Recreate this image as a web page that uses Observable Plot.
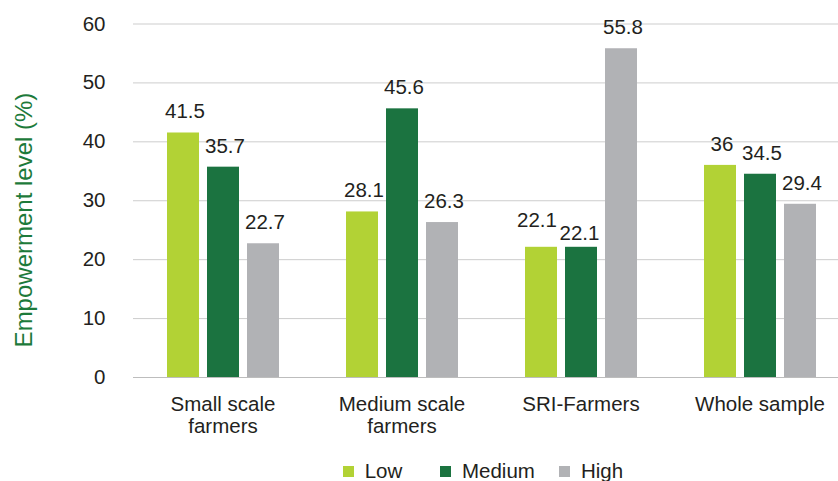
<!DOCTYPE html>
<html>
<head>
<meta charset="utf-8">
<script src="https://cdn.jsdelivr.net/npm/d3@7"></script>
<script src="https://cdn.jsdelivr.net/npm/@observablehq/plot@0.6"></script>
<style>
  body { margin: 0; background: #fff; }
  #chart { position: relative; width: 838px; height: 481px; overflow: hidden; background: #fff;
           font-family: "Liberation Sans", Arial, Helvetica, sans-serif; }
  #chart svg { display: block; }
  .lg-swatches { position: absolute; left: 342.7px; top: 459px; margin: 0; min-height: 0;
                 font: 20.5px "Liberation Sans", Arial, Helvetica, sans-serif; color: #231f20; }
  .lg-swatch { margin-right: 0; height: 24px; }
  .lg-swatch > svg { margin-right: 11px; }
  .lg-swatch:nth-of-type(1) { width: 97.3px; }
  .lg-swatch:nth-of-type(2) { width: 119px; }
</style>
</head>
<body>
<div id="chart"></div>
<script>
// Farmer groups along the horizontal axis and their printed labels
const categories = ["Small scale farmers", "Medium scale farmers", "SRI-Farmers", "Whole sample"];
const categoryLabels = ["Small scale\nfarmers", "Medium scale\nfarmers", "SRI-Farmers", "Whole sample"];

// Empowerment levels (series)
const levels = ["Low", "Medium", "High"];
const levelColors = ["#b2d235", "#1b7340", "#b1b2b5"];

// Share of respondents (%) at each level, per group
const lowValues = [41.5, 28.1, 22.1, 36];
const mediumValues = [35.7, 45.6, 22.1, 34.5];
const highValues = [22.7, 26.3, 55.8, 29.4];

const yTicks = [0, 10, 20, 30, 40, 50, 60];
const yTitle = "Empowerment level (%)";

const seriesValues = [lowValues, mediumValues, highValues];
const rows = [];
categories.forEach((category, i) => {
  levels.forEach((level, j) => {
    rows.push({category, level, value: seriesValues[j][i]});
  });
});

const textColor = "#231f20";

// The two equal SRI-Farmers labels are nudged apart so they don't collide
const isSriLow = (d) => d.category === "SRI-Farmers" && d.level === "Low";
const isSriMedium = (d) => d.category === "SRI-Farmers" && d.level === "Medium";
const valueLabel = (data, dx, dy) =>
  Plot.text(data, {
    fx: "category",
    x: "level",
    y: "value",
    text: (d) => String(d.value),
    lineAnchor: "bottom",
    dx,
    dy,
    fill: textColor
  });

const chart = Plot.plot({
  width: 838,
  height: 455,
  marginLeft: 132,
  marginRight: 0,
  marginTop: 23,
  marginBottom: 78,
  style: {
    fontFamily: '"Liberation Sans", Arial, Helvetica, sans-serif',
    fontSize: "20.5px",
    color: textColor,
    background: "#fff",
    overflow: "visible"
  },
  fx: {domain: categories, range: [132.3, 849.5], padding: 0, label: null},
  x: {domain: levels, paddingInner: 0.21, paddingOuter: 0.84, align: 0.5, axis: null},
  y: {domain: [0, 60], range: [377, 23.5]},
  color: {domain: levels, range: levelColors},
  marks: [
    Plot.ruleY(yTicks.filter((t) => t > 0), {stroke: "#cdcdcd", strokeWidth: 1}),
    Plot.barY(rows, {fx: "category", x: "level", y: "value", fill: "level"}),
    Plot.ruleY([0], {stroke: "#bdbdbd", strokeWidth: 1}),
    Plot.axisY({
      ticks: yTicks,
      tickSize: 0,
      tickPadding: 28,
      line: true,
      stroke: "#c6c6c6",
      fill: textColor,
      label: null
    }),
    Plot.axisFx({
      anchor: "bottom",
      tickSize: 0,
      tickPadding: 17,
      lineHeight: 1.11,
      fill: textColor,
      tickFormat: (d) => categoryLabels[categories.indexOf(d)],
      label: null
    }),
    valueLabel(rows.filter((d) => !isSriLow(d) && !isSriMedium(d)), 1.5, -14.5),
    valueLabel(rows.filter(isSriLow), -4.5, -20),
    valueLabel(rows.filter(isSriMedium), -2, -7),
    Plot.text([{category: categories[0], title: yTitle}], {
      fx: "category",
      frameAnchor: "left",
      textAnchor: "middle",
      text: "title",
      rotate: -90,
      dx: -109.5,
      dy: 19.5,
      fontSize: 24,
      fill: "#1d7a3b"
    })
  ]
});

const legend = Plot.legend({
  color: {domain: levels, range: levelColors, type: "ordinal"},
  legend: "swatches",
  swatchSize: 11,
  className: "lg"
});

const root = document.getElementById("chart");
root.appendChild(chart);
root.appendChild(legend);
</script>
</body>
</html>
